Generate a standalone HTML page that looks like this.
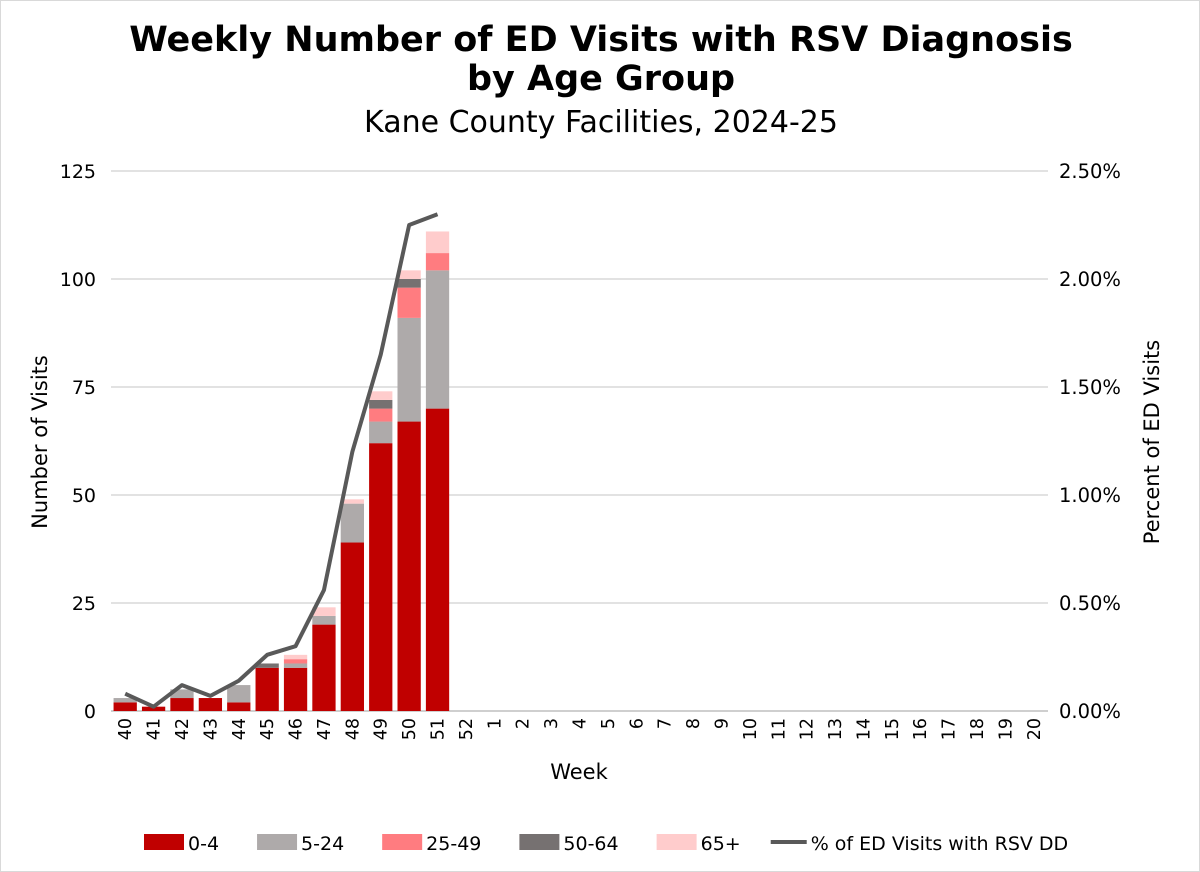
<!DOCTYPE html>
<html><head><meta charset="utf-8"><style>
body{margin:0;background:#fff;font-family:"Liberation Sans","DejaVu Sans",sans-serif}
#wrap{width:1198px;height:870px;border:1px solid #d9d9d9;position:relative;overflow:hidden}
</style></head><body>
<div id="wrap">
<svg id="chart" width="1198" height="870">
<text x="600" y="50" text-anchor="middle" font-family="DejaVu Sans" font-weight="bold" font-size="35" fill="#000">Weekly Number of ED Visits with RSV Diagnosis</text>
<text x="600" y="89" text-anchor="middle" font-family="DejaVu Sans" font-weight="bold" font-size="35" fill="#000">by Age Group</text>
<text x="600" y="131" text-anchor="middle" font-family="DejaVu Sans" font-size="30" fill="#000">Kane County Facilities, 2024-25</text>
<g id="grid"></g><g id="bars"></g><g id="line"></g><g id="axes"></g><g id="legend"></g>
<text transform="translate(46,441) rotate(-90)" text-anchor="middle" font-family="DejaVu Sans" font-size="21">Number of Visits</text>
<text transform="translate(1158,441) rotate(-90)" text-anchor="middle" font-family="DejaVu Sans" font-size="21">Percent of ED Visits</text>
<text x="578" y="778" text-anchor="middle" font-family="DejaVu Sans" font-size="21">Week</text>
</svg></div>
<script>
const weeks=["40","41","42","43","44","45","46","47","48","49","50","51","52","1","2","3","4","5","6","7","8","9","10","11","12","13","14","15","16","17","18","19","20"];
const age0_4=[2,1,3,3,2,10,10,20,39,62,67,70];
const age5_24=[1,0,2,0,4,0,1,2,9,5,24,32];
const age25_49=[0,0,0,0,0,0,1,0,0,3,7,4];
const age50_64=[0,0,0,0,0,1,0,0,0,2,2,0];
const age65p=[0,0,0,0,0,0,1,2,1,2,2,5];
const pctRSV=[0.08,0.02,0.12,0.07,0.14,0.26,0.30,0.56,1.20,1.65,2.25,2.30];
const yTicks=[0,25,50,75,100,125];
const y2Ticks=["0.00%","0.50%","1.00%","1.50%","2.00%","2.50%"];
const series=[{n:"0-4",d:age0_4,c:"#c00000"},{n:"5-24",d:age5_24,c:"#aeaaaa"},{n:"25-49",d:age25_49,c:"#ff7c80"},{n:"50-64",d:age50_64,c:"#767171"},{n:"65+",d:age65p,c:"#ffcccc"}];
const NS="http://www.w3.org/2000/svg";
const x0=110,x1=1047,yb=710,yt=170,ymax=125,pmax=2.5;
const bw=(x1-x0)/weeks.length;
const y=v=>yb-(v/ymax)*(yb-yt);
const y2=p=>yb-(p/pmax)*(yb-yt);
const xc=i=>x0+bw*(i+0.5);
function mk(t,a,p){const e=document.createElementNS(NS,t);for(const k in a)e.setAttribute(k,a[k]);p.appendChild(e);return e;}
const G=document.getElementById('grid'),B=document.getElementById('bars'),L=document.getElementById('line'),A=document.getElementById('axes'),LG=document.getElementById('legend');
yTicks.forEach((t,i)=>{
 const l=mk('line',{x1:x0,x2:x1,y1:y(t),y2:y(t),stroke:i==0?'#bfbfbf':'#d9d9d9','stroke-width':1.5},G);
 
 
 const tx=mk('text',{x:95,y:y(t)+7,'text-anchor':'end','font-family':'DejaVu Sans','font-size':19,fill:'#000'},A);tx.textContent=t;
 
 
 const t2=mk('text',{x:1058,y:y(t)+7,'font-family':'DejaVu Sans','font-size':19.5,fill:'#000'},A);t2.textContent=y2Ticks[i];
 
 
});
weeks.forEach((w,i)=>{
 const tx=mk('text',{transform:`translate(${xc(i)+6},${717}) rotate(-90)`,'text-anchor':'end','font-family':'DejaVu Sans','font-size':17.5,fill:'#000'},A);tx.textContent=w;
 
 
});
const bwid=bw*0.82;
age0_4.forEach((_,i)=>{let acc=0;series.forEach(s=>{const v=s.d[i]||0;if(v>0){
 const r=mk('rect',{x:xc(i)-bwid/2,y:y(acc+v),width:bwid,height:y(acc)-y(acc+v),fill:s.c},B);
 
 }
 acc+=v;});});
const pl=mk('polyline',{points:pctRSV.map((p,i)=>xc(i)+','+y2(p)).join(' '),fill:'none',stroke:'#595959','stroke-width':4,'stroke-linejoin':'round'},L);


let lx=143;
series.forEach(s=>{
 const r=mk('rect',{x:lx,y:833,width:40,height:16,fill:s.c},LG);
 
 
 const t=mk('text',{x:lx+44,y:849,'font-family':'DejaVu Sans','font-size':19},LG);t.textContent=s.n;
 
 
 lx+=44+t.getComputedTextLength()+38;
});
const ll=mk('line',{x1:lx-8,x2:lx+28,y1:841,y2:841,stroke:'#595959','stroke-width':4},LG);


const lt=mk('text',{x:lx+32,y:849,'font-family':'DejaVu Sans','font-size':19},LG);lt.textContent="% of ED Visits with RSV DD";


</script></body></html>
